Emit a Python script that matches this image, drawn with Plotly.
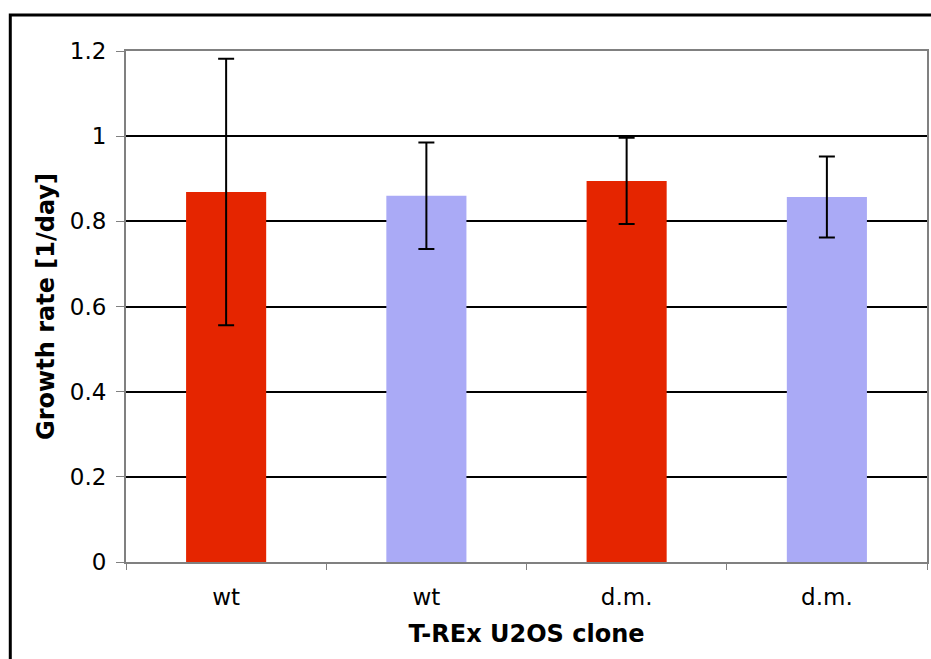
import plotly.graph_objects as go

categories = ["wt", "wt", "d.m.", "d.m."]
values = [0.869, 0.860, 0.895, 0.857]
errors = [0.313, 0.125, 0.101, 0.095]
colors = ["#E52500", "#AAAAF6", "#E52500", "#AAAAF6"]
y_ticks = [0, 0.2, 0.4, 0.6, 0.8, 1.0, 1.2]
y_labels = ["0", "0.2", "0.4", "0.6", "0.8", "1", "1.2"]

xpos = list(range(len(categories)))

fig = go.Figure(go.Bar(
    x=xpos, y=values, width=0.4,
    marker=dict(color=colors, line=dict(width=0)),
    error_y=dict(type="data", array=errors, visible=True,
                 color="black", thickness=2, width=8),
))

font = "DejaVu Sans, Verdana, sans-serif"
FW, FH = 931, 659
ML, MR, MT, MB = 126, 2, 51, 97
fig.update_layout(
    width=FW, height=FH,
    margin=dict(l=ML, r=MR, t=MT, b=MB),
    plot_bgcolor="white", paper_bgcolor="white",
    showlegend=False,
    font=dict(family=font, size=23, color="black"),
    xaxis=dict(
        range=[-0.5, 3.5], tickvals=xpos, ticktext=categories,
        ticks="", showgrid=False, zeroline=False,
        showline=True, linecolor="#808080", linewidth=2, mirror=True,
        tickfont=dict(size=23), ticklabelstandoff=13,
        minor=dict(tickvals=[-0.5, 0.5, 1.5, 2.5, 3.5], ticks="outside",
                   ticklen=6, tickcolor="#808080", tickwidth=1, showgrid=False),
        title=dict(text="<b>T-REx U2OS clone</b>", font=dict(size=24), standoff=17),
    ),
    yaxis=dict(
        range=[0, 1.2], tickvals=y_ticks, ticktext=y_labels,
        ticks="outside", ticklen=8, tickcolor="#808080", tickwidth=1,
        showgrid=True, gridcolor="black", gridwidth=2, zeroline=False,
        showline=True, linecolor="#808080", linewidth=2, mirror=True,
        tickfont=dict(size=23), ticklabelstandoff=5,
        title=dict(text="<b>Growth rate [1/day]</b>", font=dict(size=24), standoff=8),
    ),
)

# outer frame at page x=10, y=15 (left and top edges visible)
PW, PH = FW - ML - MR, FH - MT - MB
fig.add_shape(type="rect", xref="paper", yref="paper",
              x0=(10 - ML) / PW, x1=(990 - ML) / PW,
              y0=(FH - MB - 740) / PH, y1=(FH - MB - 15) / PH,
              line=dict(color="black", width=3), fillcolor="rgba(0,0,0,0)", layer="above")

fig.write_html(
    "out.html",
    config={"displayModeBar": False},
    post_script=("document.documentElement.style.overflow='hidden';"
                 "document.body.style.overflow='hidden';"
                 "document.body.style.margin='0';"),
)
